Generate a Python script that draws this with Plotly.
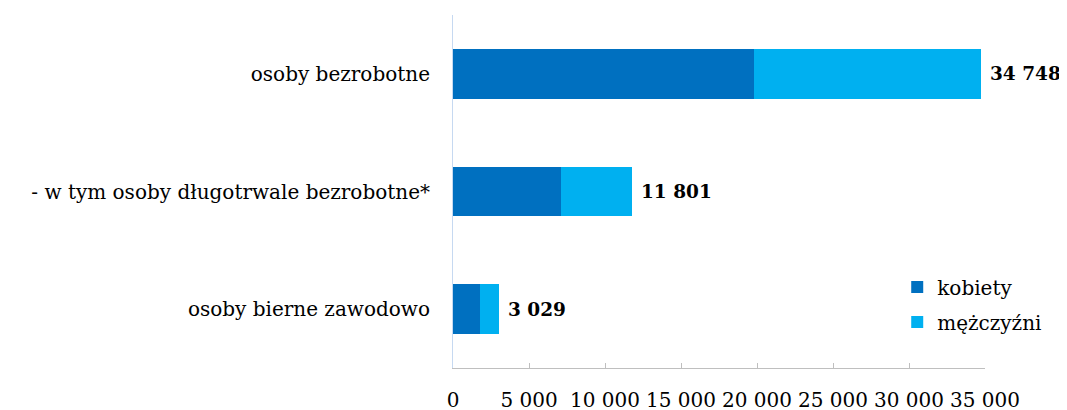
import plotly.graph_objects as go

categories = ["osoby bezrobotne", "- w tym osoby długotrwale bezrobotne*", "osoby bierne zawodowo"]
kobiety = [19800, 7100, 1770]
mezczyzni = [14948, 4701, 1259]
totals = [34748, 11801, 3029]
series_names = ["kobiety", "mężczyźni"]
tick_vals = [0, 5000, 10000, 15000, 20000, 25000, 30000, 35000]
tick_text = ["0", "5 000", "10 000", "15 000", "20 000", "25 000", "30 000", "35 000"]

font_family = "DejaVu Serif"

fig = go.Figure()
fig.add_trace(go.Bar(y=categories, x=kobiety, orientation="h", name=series_names[0],
                     legendgroup="k", marker=dict(color="#0070C0", line=dict(width=0)), width=0.42))
fig.add_trace(go.Bar(y=categories, x=mezczyzni, orientation="h", name=series_names[1],
                     legendgroup="m", marker=dict(color="#00B0F0", line=dict(width=0)), width=0.42))

def fmt(v):
    return f"{v:,}".replace(",", " ")

for cat, t in zip(categories, totals):
    fig.add_annotation(x=t, y=cat, xref="x", yref="y", text=f"<b>{fmt(t)}</b>",
                       showarrow=False, xanchor="left", xshift=7,
                       font=dict(family=font_family, size=18.5, color="black"))

fig.update_layout(
    barmode="stack",
    width=1067, height=410,
    margin=dict(l=445, r=90, t=7, b=50),
    plot_bgcolor="white", paper_bgcolor="white",
    font=dict(family=font_family, size=20, color="black"),
    legend=dict(x=0.835, y=0.285, xanchor="left", yanchor="top", traceorder="grouped",
                font=dict(family=font_family, size=20),
                bgcolor="rgba(0,0,0,0)", itemwidth=30, tracegroupgap=6),
    showlegend=True,
)
fig.update_xaxes(range=[0, 35000], tickvals=tick_vals, ticktext=tick_text, automargin=False,
                 showgrid=False, zeroline=False, showline=True, linecolor="#BFBFBF", linewidth=1,
                 ticks="inside", ticklen=5, tickcolor="#BFBFBF",
                 ticklabelstandoff=14, tickfont=dict(size=20, family=font_family))
fig.update_yaxes(autorange="reversed", showgrid=False, zeroline=False, automargin=False,
                 showline=True, linecolor="#C6D9F1", linewidth=1,
                 ticks="", ticklabelstandoff=18, tickfont=dict(size=20, family=font_family))

fig.write_html("out.html")
